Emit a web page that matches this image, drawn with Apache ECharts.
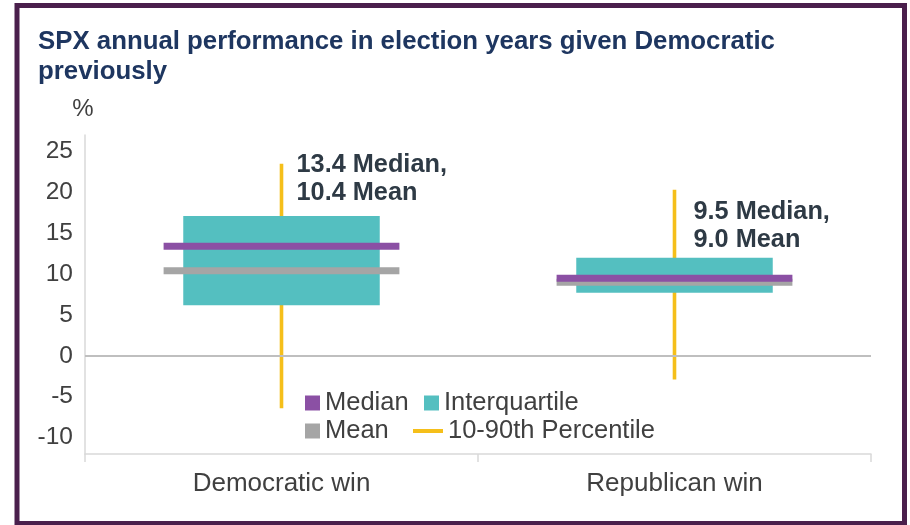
<!DOCTYPE html>
<html>
<head>
<meta charset="utf-8">
<script src="https://cdn.jsdelivr.net/npm/echarts@6/dist/echarts.min.js"></script>
<style>
html,body{margin:0;padding:0;background:#fff;}
#c{width:910px;height:525px;}
</style>
</head>
<body>
<div id="c"></div>
<script>
// ---- data ----
const categories = ['Democratic win', 'Republican win'];
const p10 = [-6.4, -2.9];
const p90 = [23.5, 20.3];
const q1 = [6.2, 7.7];
const q3 = [17.1, 12.0];
const medians = [13.4, 9.5];
const means = [10.4, 9.0];
const yTickLabels = [-10, -5, 0, 5, 10, 15, 20, 25];

// ---- annotation placement (positions, not data) ----
const annotTopValue = [25.1, 19.3];
const annotOffsetX = [15, 19];

const FONT = "'Liberation Sans', Arial, sans-serif";
const C = {
  median: '#8B50A4',
  iqr: '#54BFC0',
  mean: '#A5A5A5',
  whisk: '#F5BF1A',
  title: '#1E3660',
  annot: '#2E3A45',
  text: '#404040',
  axis: '#D9D9D9',
  zero: '#BFBFBF',
  frame: '#4A1F4C'
};

const chart = echarts.init(document.getElementById('c'), null, {renderer: 'canvas'});

function bandWidth(api) { return api.size([1, 0])[0]; }

const iqrData = categories.map((c, i) => [i, q1[i], q3[i]]);
const whiskData = categories.map((c, i) => [i, p10[i], p90[i]]);
const medData = categories.map((c, i) => [i, medians[i]]);
const meanData = categories.map((c, i) => [i, means[i]]);
const annotData = categories.map((c, i) => [i, annotTopValue[i]]);

function hBar(frac, h, color) {
  return function (params, api) {
    const p = api.coord([api.value(0), api.value(1)]);
    const w = bandWidth(api) * frac;
    return {type: 'rect', shape: {x: p[0] - w / 2, y: p[1] - h / 2, width: w, height: h}, style: {fill: color}};
  };
}

const legendBase = {
  orient: 'horizontal', padding: 0, selectedMode: false,
  itemWidth: 15, itemHeight: 15,
  textStyle: {fontFamily: FONT, fontSize: 25.5, color: C.text, lineHeight: 28}
};

const option = {
  animation: false,
  backgroundColor: '#fff',
  title: {
    text: 'SPX annual performance in election years given Democratic\npreviously',
    left: 38, top: 27, padding: 0,
    textStyle: {fontFamily: FONT, fontSize: 25.8, fontWeight: 'bold', color: C.title, lineHeight: 30}
  },
  legend: [
    Object.assign({}, legendBase, {left: 305, top: 389, data: [{name: 'Median', icon: 'rect'}]}),
    Object.assign({}, legendBase, {left: 424, top: 389, data: [{name: 'Interquartile', icon: 'rect'}]}),
    Object.assign({}, legendBase, {left: 305, top: 417, data: [{name: 'Mean', icon: 'rect'}]}),
    Object.assign({}, legendBase, {left: 413, top: 417, itemWidth: 30, itemHeight: 4, data: [{name: '10-90th Percentile', icon: 'rect'}]})
  ],
  grid: {left: 85, right: 39, top: 135, bottom: 71, containLabel: false},
  xAxis: {
    type: 'category',
    data: categories,
    boundaryGap: true,
    axisLine: {show: true, onZero: false, lineStyle: {color: C.axis, width: 1.5}},
    axisTick: {show: true, length: 8, lineStyle: {color: C.axis, width: 1.5}},
    axisLabel: {fontFamily: FONT, fontSize: 26, color: C.text, margin: 17},
    splitLine: {show: false}
  },
  yAxis: {
    type: 'value',
    min: -12, max: 27, interval: 1,
    name: '%',
    nameLocation: 'end',
    nameGap: 14,
    nameTextStyle: {fontFamily: FONT, fontSize: 24, color: C.text, align: 'center', padding: [0, 4, 0, 0]},
    axisLine: {show: true, lineStyle: {color: C.axis, width: 1.5}},
    axisTick: {show: false},
    splitLine: {show: false},
    axisLabel: {
      fontFamily: FONT, fontSize: 24.5, color: C.text, margin: 12,
      formatter: v => (yTickLabels.indexOf(v) >= 0 ? String(v) : '')
    }
  },
  series: [
    {
      name: '10-90th Percentile', type: 'custom', z: 1,
      itemStyle: {color: C.whisk},
      data: whiskData,
      encode: {x: 0, y: [1, 2]},
      renderItem: function (params, api) {
        const lo = api.coord([api.value(0), api.value(1)]);
        const hi = api.coord([api.value(0), api.value(2)]);
        const w = 3.6;
        return {type: 'rect', shape: {x: lo[0] - w / 2, y: hi[1], width: w, height: lo[1] - hi[1]}, style: {fill: C.whisk}};
      },
      markLine: {
        silent: true, symbol: 'none', label: {show: false},
        lineStyle: {color: C.zero, width: 2, type: 'solid'},
        data: [{yAxis: 0}]
      }
    },
    {
      name: 'Interquartile', type: 'custom', z: 2,
      itemStyle: {color: C.iqr},
      data: iqrData,
      encode: {x: 0, y: [1, 2]},
      renderItem: function (params, api) {
        const lo = api.coord([api.value(0), api.value(1)]);
        const hi = api.coord([api.value(0), api.value(2)]);
        const w = bandWidth(api) * 0.5;
        return {type: 'rect', shape: {x: lo[0] - w / 2, y: hi[1], width: w, height: lo[1] - hi[1]}, style: {fill: C.iqr}};
      }
    },
    {
      name: 'Mean', type: 'custom', z: 3,
      itemStyle: {color: C.mean},
      data: meanData,
      encode: {x: 0, y: 1},
      renderItem: hBar(0.6, 7, C.mean)
    },
    {
      name: 'Median', type: 'custom', z: 4,
      itemStyle: {color: C.median},
      data: medData,
      encode: {x: 0, y: 1},
      renderItem: hBar(0.6, 7, C.median)
    },
    {
      name: 'annotations', type: 'custom', z: 5, silent: true,
      data: annotData,
      encode: {x: 0, y: 1},
      renderItem: function (params, api) {
        const i = params.dataIndex;
        const p = api.coord([api.value(0), api.value(1)]);
        return {
          type: 'text',
          x: p[0] + annotOffsetX[i], y: p[1],
          style: {
            text: medians[i].toFixed(1) + ' Median,\n' + means[i].toFixed(1) + ' Mean',
            fill: C.annot, fontFamily: FONT, fontSize: 25.3, fontWeight: 'bold',
            lineHeight: 28, align: 'left', verticalAlign: 'top'
          }
        };
      }
    }
  ],
  graphic: [
    {type: 'rect', silent: true, z: 100,
     shape: {x: 17, y: 5.5, width: 887.5, height: 518},
     style: {fill: 'none', stroke: C.frame, lineWidth: 5}}
  ]
};

chart.setOption(option);
</script>
</body>
</html>
